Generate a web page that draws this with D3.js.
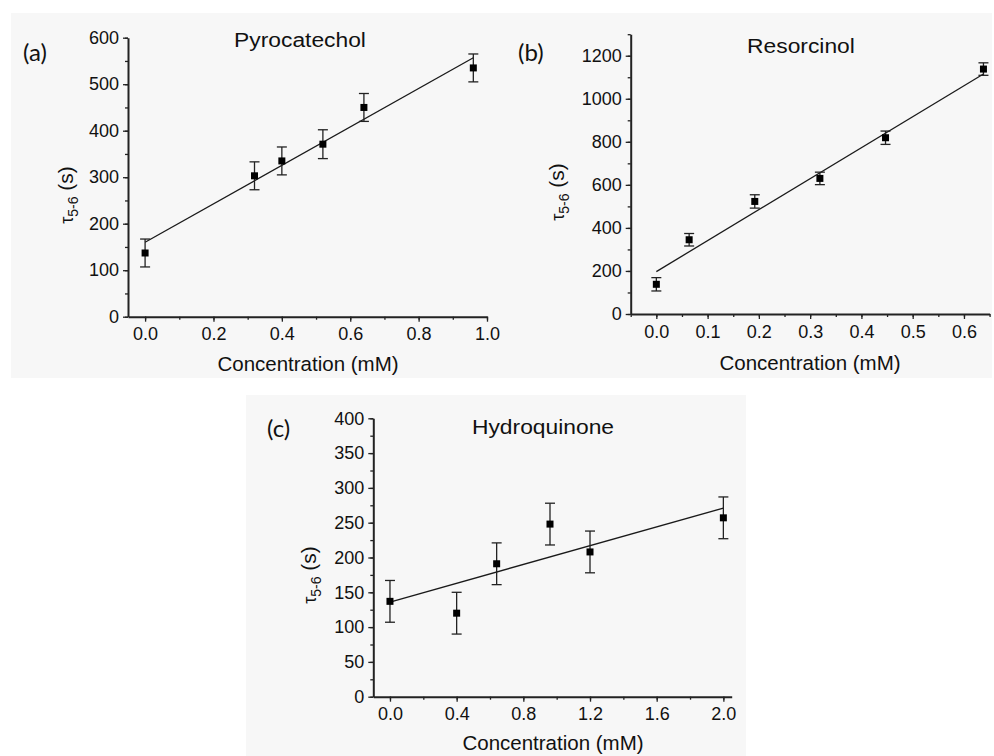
<!DOCTYPE html>
<html>
<head>
<meta charset="utf-8">
<script src="https://cdn.jsdelivr.net/npm/d3@7"></script>
<style>
  html, body { margin: 0; padding: 0; background: #ffffff; }
  svg { display: block; }
</style>
</head>
<body>
<svg id="chart" width="994" height="756"></svg>
<script>
// ---------- DATA ----------
// (a) Pyrocatechol
const concA = [0, 0.32, 0.40, 0.52, 0.64, 0.96];
const tauA  = [137, 303, 335, 371, 450, 535];
const errA  = [30, 30, 30, 31, 30, 30];
const fitXA = [0, 0.96];
const fitYA = [160, 557];
const xTicksA = [0, 0.2, 0.4, 0.6, 0.8, 1.0];
const yTicksA = [0, 100, 200, 300, 400, 500, 600];

// (b) Resorcinol
const concB = [0, 0.064, 0.192, 0.319, 0.447, 0.638];
const tauB  = [138, 345, 523, 630, 819, 1138];
const errB  = [31, 29, 31, 29, 31, 29];
const fitXB = [0, 0.638];
const fitYB = [197, 1115];
const xTicksB = [0, 0.1, 0.2, 0.3, 0.4, 0.5, 0.6];
const yTicksB = [0, 200, 400, 600, 800, 1000, 1200];

// (c) Hydroquinone
const concC = [0, 0.40, 0.64, 0.96, 1.20, 2.0];
const tauC  = [137, 120, 191, 248, 208, 257];
const errC  = [30, 30, 30, 30, 30, 30];
const fitXC = [0, 2.0];
const fitYC = [136, 271];
const xTicksC = [0, 0.4, 0.8, 1.2, 1.6, 2.0];
const yTicksC = [0, 50, 100, 150, 200, 250, 300, 350, 400];

const panelLabels = ["(a)", "(b)", "(c)"];
const titles = ["Pyrocatechol", "Resorcinol", "Hydroquinone"];
const xTitle = "Concentration (mM)";

// ---------- LAYOUT ----------
const FONT = "'Liberation Sans', Arial, Helvetica, sans-serif";
const LABFONT = "Lato, 'Open Sans', sans-serif";
const svg = d3.select("#chart");
const bg = "#f7f7f7";
svg.append("rect").attr("x", 11).attr("y", 13).attr("width", 981).attr("height", 365).attr("fill", bg);
svg.append("rect").attr("x", 246).attr("y", 395).attr("width", 500).attr("height", 361).attr("fill", bg);

const panels = [
  { x: concA, y: tauA, e: errA, fx: fitXA, fy: fitYA, xt: xTicksA, yt: yTicksA,
    xd: [-0.05, 1.0], xr: [128, 487], yd: [0, 600], yr: [316.7, 37.7],
    xMinor: 0.1, yMinor: 50,
    lab: [23, 61], title: [300, 47], xTitlePos: [308, 371], yTitlePos: [73, 195] },
  { x: concB, y: tauB, e: errB, fx: fitXB, fy: fitYB, xt: xTicksB, yt: yTicksB,
    xd: [-0.05, 0.65], xr: [630.7, 989.6], yd: [0, 1300], yr: [314, 34.2],
    xMinor: 0.05, yMinor: 100,
    lab: [518, 61], title: [801, 53], xTitlePos: [810, 370], yTitlePos: [564, 192] },
  { x: concC, y: tauC, e: errC, fx: fitXC, fy: fitYC, xt: xTicksC, yt: yTicksC,
    xd: [-0.1, 2.05], xr: [373.3, 731.7], yd: [0, 400], yr: [696.7, 418.3],
    xMinor: 0.2, yMinor: 25,
    lab: [267, 437], title: [543, 434], xTitlePos: [553, 750], yTitlePos: [316, 575] }
];

function range(a, b, step) {
  const out = [];
  for (let v = a; v <= b + 1e-9; v += step) out.push(+v.toFixed(6));
  return out;
}

panels.forEach((p, i) => {
  const x = d3.scaleLinear().domain(p.xd).range(p.xr);
  const y = d3.scaleLinear().domain(p.yd).range(p.yr);
  const g = svg.append("g");
  const x0 = p.xr[0], y0 = p.yr[0];

  // minor ticks
  const xMinorTicks = range(Math.ceil(p.xd[0] / p.xMinor) * p.xMinor, p.xd[1], p.xMinor);
  const yMinorTicks = range(p.yd[0], p.yd[1], p.yMinor);
  g.append("g").attr("transform", `translate(0,${y0})`)
    .call(d3.axisBottom(x).tickValues(xMinorTicks).tickSize(3).tickFormat(""))
    .call(s => s.select(".domain").remove())
    .selectAll("line").attr("stroke", "#222").attr("stroke-width", 1.3);
  g.append("g").attr("transform", `translate(${x0},0)`)
    .call(d3.axisLeft(y).tickValues(yMinorTicks).tickSize(3).tickFormat(""))
    .call(s => s.select(".domain").remove())
    .selectAll("line").attr("stroke", "#222").attr("stroke-width", 1.3);

  // major axes
  const xa = g.append("g").attr("transform", `translate(0,${y0})`)
    .call(d3.axisBottom(x).tickValues(p.xt).tickSize(5).tickSizeOuter(0).tickPadding(6).tickFormat(d3.format(".1f")));
  const ya = g.append("g").attr("transform", `translate(${x0},0)`)
    .call(d3.axisLeft(y).tickValues(p.yt).tickSize(5).tickSizeOuter(0).tickPadding(4).tickFormat(d3.format("d")));
  [xa, ya].forEach(a => {
    a.attr("font-family", null).attr("font-size", null);
    a.select(".domain").attr("stroke", "#222").attr("stroke-width", 2);
    a.selectAll(".tick line").attr("stroke", "#222").attr("stroke-width", 1.3);
    a.selectAll(".tick text").style("font-size", "18px").attr("fill", "#111")
      .style("font-family", FONT);
  });

  // fit line
  const fitPts = p.fx.map((d, k) => [d, p.fy[k]]);
  g.append("path").datum(fitPts)
    .attr("d", d3.line().x(d => x(d[0])).y(d => y(d[1])))
    .attr("fill", "none").attr("stroke", "#1a1a1a").attr("stroke-width", 1.3);

  // error bars
  const pts = p.x.map((d, k) => ({ x: d, y: p.y[k], e: p.e[k] }));
  const eb = g.append("g").selectAll("g").data(pts).join("g");
  eb.append("line").attr("x1", d => x(d.x)).attr("x2", d => x(d.x))
    .attr("y1", d => y(d.y - d.e)).attr("y2", d => y(d.y + d.e))
    .attr("stroke", "#222").attr("stroke-width", 1.3);
  [-1, 1].forEach(sg => {
    eb.append("line").attr("x1", d => x(d.x) - 5).attr("x2", d => x(d.x) + 5)
      .attr("y1", d => y(d.y + sg * d.e)).attr("y2", d => y(d.y + sg * d.e))
      .attr("stroke", "#222").attr("stroke-width", 1.3);
  });
  eb.append("rect").attr("x", d => x(d.x) - 3.5).attr("y", d => y(d.y) - 3.5)
    .attr("width", 7).attr("height", 7).attr("fill", "#000");

  // panel label
  svg.append("text").attr("x", p.lab[0]).attr("y", p.lab[1])
    .style("font-family", LABFONT).style("font-size", "24px").attr("fill", "#111")
    .text(panelLabels[i]);
  // title (slightly wide, as in the reference)
  svg.append("text")
    .attr("transform", `translate(${p.title[0]},${p.title[1]}) scale(1.17,1)`)
    .attr("text-anchor", "middle")
    .style("font-family", FONT).style("font-size", "19.5px").attr("fill", "#111").text(titles[i]);
  // x title
  svg.append("text").attr("x", p.xTitlePos[0]).attr("y", p.xTitlePos[1]).attr("text-anchor", "middle")
    .style("font-family", FONT).style("font-size", "20.5px").attr("fill", "#111").text(xTitle);
  // y title
  const yt = svg.append("text")
    .attr("transform", `translate(${p.yTitlePos[0]},${p.yTitlePos[1]}) rotate(-90)`)
    .attr("text-anchor", "middle").style("font-family", FONT).attr("fill", "#111");
  yt.append("tspan").style("font-size", "18px").text("τ");
  yt.append("tspan").style("font-size", "14px").attr("dy", 5).text("5-6");
  yt.append("tspan").style("font-size", "21px").attr("dy", -5).text(" (s)");
});
</script>
</body>
</html>
